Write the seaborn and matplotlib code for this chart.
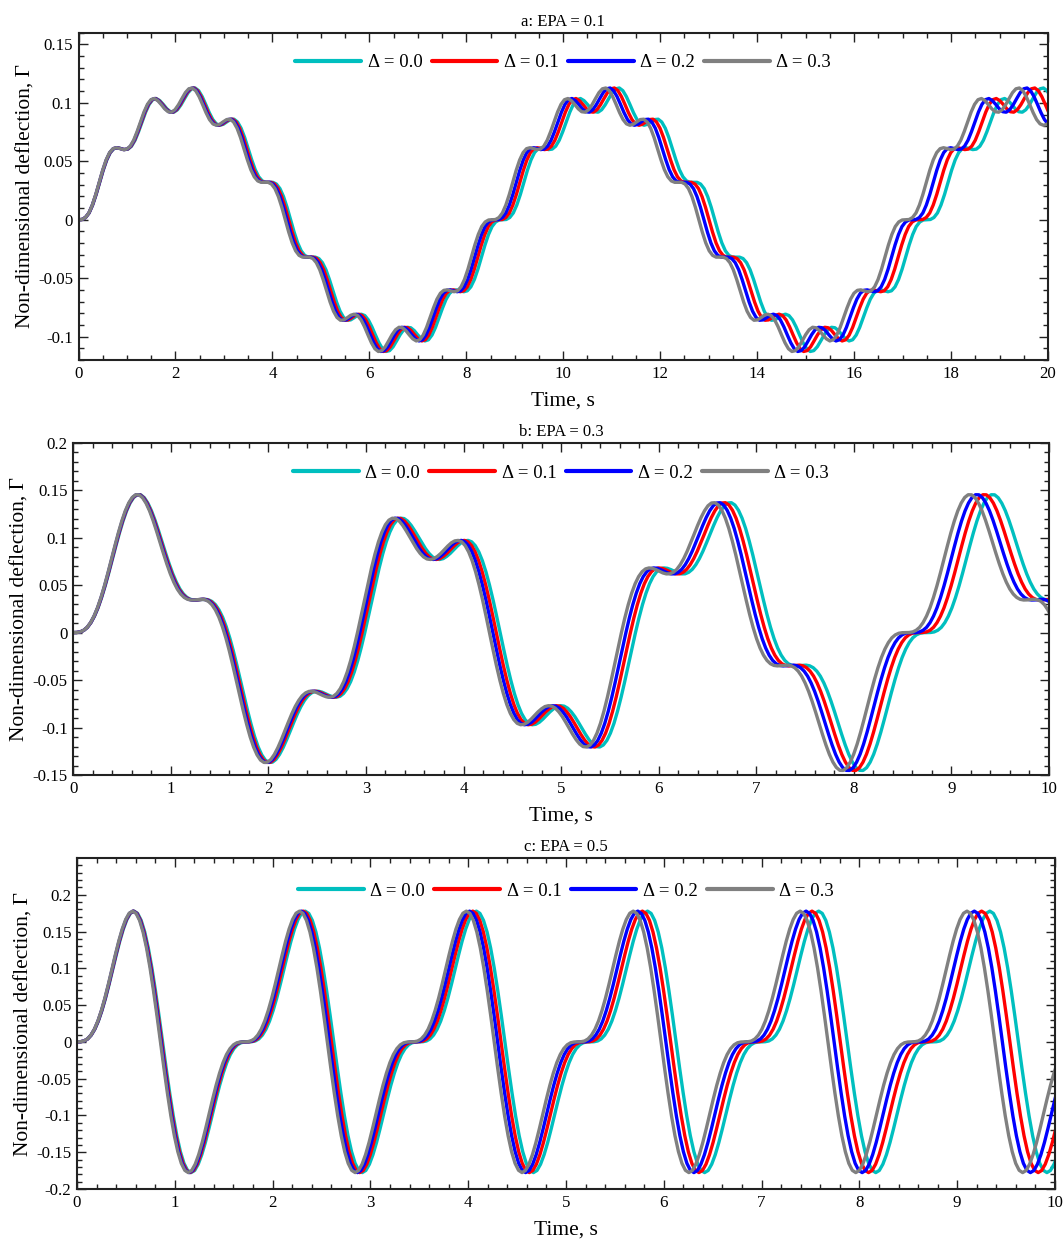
import numpy as np
import pandas as pd
import seaborn as sns
import matplotlib
matplotlib.use("Agg")
import matplotlib.pyplot as plt
from matplotlib.ticker import MultipleLocator, FuncFormatter
from matplotlib.lines import Line2D

# ---------------------------------------------------------------- data
cases = ["Δ = 0.0", "Δ = 0.1", "Δ = 0.2", "Δ = 0.3"]
colors = ["#00BFBF", "#FF0000", "#0000FF", "#808080"]

# time compression of each Δ case relative to Δ = 0.0 (read from peak positions)
period_ratio = [1.000, 0.991, 0.983, 0.975]

# sample spacing (s) of the digitised Δ = 0.0 curves
dt_a = 0.07292
dt_b = 0.03646
dt_c = 0.03646

titles = ["a: EPA = 0.1", "b: EPA = 0.3", "c: EPA = 0.5"]

gamma_a = [
    0.0, 0.0002, 0.0019, 0.0058, 0.0126, 0.0216, 0.0320, 0.0423, 0.0511, 0.0574,
    0.0608, 0.0616, 0.0609, 0.0600, 0.0604, 0.0629, 0.0680, 0.0754, 0.0838, 0.0921,
    0.0987, 0.1027, 0.1037, 0.1019, 0.0986, 0.0949, 0.0924, 0.0920, 0.0941, 0.0983,
    0.1036, 0.1087, 0.1120, 0.1127, 0.1104, 0.1053, 0.0986, 0.0916, 0.0857, 0.0820,
    0.0808, 0.0817, 0.0838, 0.0857, 0.0860, 0.0836, 0.0783, 0.0704, 0.0609, 0.0513,
    0.0428, 0.0367, 0.0332, 0.0320, 0.0320, 0.0320, 0.0305, 0.0266, 0.0198, 0.0106,
    0.0, -0.0106, -0.0198, -0.0266, -0.0305, -0.0320, -0.0320, -0.0320, -0.0332, -0.0367,
    -0.0428, -0.0513, -0.0609, -0.0704, -0.0783, -0.0836, -0.0860, -0.0857, -0.0838, -0.0817,
    -0.0808, -0.0820, -0.0857, -0.0916, -0.0986, -0.1053, -0.1104, -0.1127, -0.1120, -0.1087,
    -0.1036, -0.0983, -0.0941, -0.0920, -0.0924, -0.0949, -0.0986, -0.1019, -0.1037, -0.1027,
    -0.0987, -0.0921, -0.0838, -0.0754, -0.0680, -0.0629, -0.0604, -0.0600, -0.0609, -0.0616,
    -0.0608, -0.0574, -0.0511, -0.0423, -0.0320, -0.0216, -0.0126, -0.0058, -0.0019, -0.0002,
    0.0, 0.0002, 0.0019, 0.0058, 0.0126, 0.0216, 0.0320, 0.0423, 0.0511, 0.0574,
    0.0608, 0.0616, 0.0609, 0.0600, 0.0604, 0.0629, 0.0680, 0.0754, 0.0838, 0.0921,
    0.0987, 0.1027, 0.1037, 0.1019, 0.0986, 0.0949, 0.0924, 0.0920, 0.0941, 0.0983,
    0.1036, 0.1087, 0.1120, 0.1127, 0.1104, 0.1053, 0.0986, 0.0916, 0.0857, 0.0820,
    0.0808, 0.0817, 0.0838, 0.0857, 0.0860, 0.0836, 0.0783, 0.0704, 0.0609, 0.0513,
    0.0428, 0.0367, 0.0332, 0.0320, 0.0320, 0.0320, 0.0305, 0.0266, 0.0198, 0.0106,
    0.0, -0.0106, -0.0198, -0.0266, -0.0305, -0.0320, -0.0320, -0.0320, -0.0332, -0.0367,
    -0.0428, -0.0513, -0.0609, -0.0704, -0.0783, -0.0836, -0.0860, -0.0857, -0.0838, -0.0817,
    -0.0808, -0.0820, -0.0857, -0.0916, -0.0986, -0.1053, -0.1104, -0.1127, -0.1120, -0.1087,
    -0.1036, -0.0983, -0.0941, -0.0920, -0.0924, -0.0949, -0.0986, -0.1019, -0.1037, -0.1027,
    -0.0987, -0.0921, -0.0838, -0.0754, -0.0680, -0.0629, -0.0604, -0.0600, -0.0609, -0.0616,
    -0.0608, -0.0574, -0.0511, -0.0423, -0.0320, -0.0216, -0.0126, -0.0058, -0.0019, -0.0002,
    0.0, 0.0002, 0.0019, 0.0058, 0.0126, 0.0216, 0.0320, 0.0423, 0.0511, 0.0574,
    0.0608, 0.0616, 0.0609, 0.0600, 0.0604, 0.0629, 0.0680, 0.0754, 0.0838, 0.0921,
    0.0987, 0.1027, 0.1037, 0.1019, 0.0986, 0.0949, 0.0924, 0.0920, 0.0941, 0.0983,
    0.1036, 0.1087, 0.1120, 0.1127, 0.1104, 0.1053, 0.0986, 0.0916, 0.0857, 0.0820,
    0.0808, 0.0817, 0.0838,
]

gamma_b = [
    0.0, 0.0001, 0.0007, 0.0024, 0.0055, 0.0105, 0.0174, 0.0262, 0.0370, 0.0493,
    0.0628, 0.0770, 0.0912, 0.1049, 0.1174, 0.1281, 0.1365, 0.1423, 0.1452, 0.1451,
    0.1420, 0.1363, 0.1283, 0.1184, 0.1072, 0.0954, 0.0835, 0.0722, 0.0619, 0.0531,
    0.0459, 0.0406, 0.0370, 0.0350, 0.0343, 0.0344, 0.0348, 0.0351, 0.0346, 0.0328,
    0.0293, 0.0238, 0.0162, 0.0064, -0.0055, -0.0192, -0.0343, -0.0502, -0.0663, -0.0820,
    -0.0966, -0.1097, -0.1205, -0.1288, -0.1343, -0.1368, -0.1365, -0.1336, -0.1283, -0.1212,
    -0.1128, -0.1036, -0.0945, -0.0857, -0.0779, -0.0715, -0.0666, -0.0635, -0.0619, -0.0618,
    -0.0628, -0.0645, -0.0663, -0.0677, -0.0681, -0.0671, -0.0641, -0.0590, -0.0515, -0.0415,
    -0.0293, -0.0151, 0.0007, 0.0176, 0.0348, 0.0519, 0.0681, 0.0828, 0.0956, 0.1059,
    0.1136, 0.1184, 0.1205, 0.1201, 0.1174, 0.1129, 0.1072, 0.1009, 0.0945, 0.0885,
    0.0835, 0.0797, 0.0775, 0.0770, 0.0779, 0.0803, 0.0835, 0.0874, 0.0912, 0.0945,
    0.0966, 0.0971, 0.0956, 0.0916, 0.0850, 0.0758, 0.0641, 0.0502, 0.0346, 0.0176,
    0.0,
    -0.0176, -0.0346, -0.0502, -0.0641, -0.0758, -0.0850, -0.0916, -0.0956, -0.0971, -0.0966,
    -0.0945, -0.0912, -0.0874, -0.0835, -0.0803, -0.0779, -0.0770, -0.0775, -0.0797, -0.0835,
    -0.0885, -0.0945, -0.1009, -0.1072, -0.1129, -0.1174, -0.1201, -0.1205, -0.1184, -0.1136,
    -0.1059, -0.0956, -0.0828, -0.0681, -0.0519, -0.0348, -0.0176, -0.0007, 0.0151, 0.0293,
    0.0415, 0.0515, 0.0590, 0.0641, 0.0671, 0.0681, 0.0677, 0.0663, 0.0645, 0.0628,
    0.0618, 0.0619, 0.0635, 0.0666, 0.0715, 0.0779, 0.0857, 0.0945, 0.1036, 0.1128,
    0.1212, 0.1283, 0.1336, 0.1365, 0.1368, 0.1343, 0.1288, 0.1205, 0.1097, 0.0966,
    0.0820, 0.0663, 0.0502, 0.0343, 0.0192, 0.0055, -0.0064, -0.0162, -0.0238, -0.0293,
    -0.0328, -0.0346, -0.0351, -0.0348, -0.0344, -0.0343, -0.0350, -0.0370, -0.0406, -0.0459,
    -0.0531, -0.0619, -0.0722, -0.0835, -0.0954, -0.1072, -0.1184, -0.1283, -0.1363, -0.1420,
    -0.1451, -0.1452, -0.1423, -0.1365, -0.1281, -0.1174, -0.1049, -0.0912, -0.0770, -0.0628,
    -0.0493, -0.0370, -0.0262, -0.0174, -0.0105, -0.0055, -0.0024, -0.0007, -0.0001,
    0.0, 0.0001, 0.0007, 0.0024, 0.0055, 0.0105, 0.0174, 0.0262, 0.0370, 0.0493,
    0.0628, 0.0770, 0.0912, 0.1049, 0.1174, 0.1281, 0.1365, 0.1423, 0.1452, 0.1451,
    0.1420, 0.1363, 0.1283, 0.1184, 0.1072, 0.0954, 0.0835, 0.0722, 0.0619, 0.0531,
    0.0459, 0.0406, 0.0370, 0.0350, 0.0343, 0.0344, 0.0348, 0.0351, 0.0346, 0.0328,
    0.0293, 0.0238, 0.0162,
]

gamma_c = [
    0.0, 0.0002, 0.0012, 0.0040, 0.0092, 0.0172, 0.0283, 0.0425, 0.0592, 0.0780, 0.0979, 0.1179,
    0.1368, 0.1533, 0.1663, 0.1748, 0.1777, 0.1746, 0.1651, 0.1493, 0.1276, 0.1007, 0.0696, 0.0356,
    0.0, -0.0356, -0.0696, -0.1007, -0.1276, -0.1493, -0.1651, -0.1746, -0.1777, -0.1748, -0.1663, -0.1533,
    -0.1368, -0.1179, -0.0979, -0.0780, -0.0592, -0.0425, -0.0283, -0.0172, -0.0092, -0.0040, -0.0012, -0.0002,
    0.0, 0.0002, 0.0012, 0.0040, 0.0092, 0.0172, 0.0283, 0.0425, 0.0592, 0.0780, 0.0979, 0.1179,
    0.1368, 0.1533, 0.1663, 0.1748, 0.1777, 0.1746, 0.1651, 0.1493, 0.1276, 0.1007, 0.0696, 0.0356,
    0.0, -0.0356, -0.0696, -0.1007, -0.1276, -0.1493, -0.1651, -0.1746, -0.1777, -0.1748, -0.1663, -0.1533,
    -0.1368, -0.1179, -0.0979, -0.0780, -0.0592, -0.0425, -0.0283, -0.0172, -0.0092, -0.0040, -0.0012, -0.0002,
    0.0, 0.0002, 0.0012, 0.0040, 0.0092, 0.0172, 0.0283, 0.0425, 0.0592, 0.0780, 0.0979, 0.1179,
    0.1368, 0.1533, 0.1663, 0.1748, 0.1777, 0.1746, 0.1651, 0.1493, 0.1276, 0.1007, 0.0696, 0.0356,
    0.0, -0.0356, -0.0696, -0.1007, -0.1276, -0.1493, -0.1651, -0.1746, -0.1777, -0.1748, -0.1663, -0.1533,
    -0.1368, -0.1179, -0.0979, -0.0780, -0.0592, -0.0425, -0.0283, -0.0172, -0.0092, -0.0040, -0.0012, -0.0002,
    0.0, 0.0002, 0.0012, 0.0040, 0.0092, 0.0172, 0.0283, 0.0425, 0.0592, 0.0780, 0.0979, 0.1179,
    0.1368, 0.1533, 0.1663, 0.1748, 0.1777, 0.1746, 0.1651, 0.1493, 0.1276, 0.1007, 0.0696, 0.0356,
    0.0, -0.0356, -0.0696, -0.1007, -0.1276, -0.1493, -0.1651, -0.1746, -0.1777, -0.1748, -0.1663, -0.1533,
    -0.1368, -0.1179, -0.0979, -0.0780, -0.0592, -0.0425, -0.0283, -0.0172, -0.0092, -0.0040, -0.0012, -0.0002,
    0.0, 0.0002, 0.0012, 0.0040, 0.0092, 0.0172, 0.0283, 0.0425, 0.0592, 0.0780, 0.0979, 0.1179,
    0.1368, 0.1533, 0.1663, 0.1748, 0.1777, 0.1746, 0.1651, 0.1493, 0.1276, 0.1007, 0.0696, 0.0356,
    0.0, -0.0356, -0.0696, -0.1007, -0.1276, -0.1493, -0.1651, -0.1746, -0.1777, -0.1748, -0.1663, -0.1533,
    -0.1368, -0.1179, -0.0979, -0.0780, -0.0592, -0.0425, -0.0283, -0.0172, -0.0092, -0.0040, -0.0012, -0.0002,
    0.0, 0.0002, 0.0012, 0.0040, 0.0092, 0.0172, 0.0283, 0.0425, 0.0592, 0.0780, 0.0979, 0.1179,
    0.1368, 0.1533, 0.1663, 0.1748, 0.1777, 0.1746, 0.1651, 0.1493, 0.1276, 0.1007, 0.0696, 0.0356,
    0.0, -0.0356, -0.0696, -0.1007, -0.1276, -0.1493, -0.1651, -0.1746, -0.1777, -0.1748, -0.1663, -0.1533,
    -0.1368, -0.1179, -0.0979, -0.0780, -0.0592, -0.0425, -0.0283,
]

# ---------------------------------------------------------------- style
sns.set_theme(style="ticks")
plt.rcParams["font.family"] = ["Liberation Serif", "DejaVu Serif"]
plt.rcParams["axes.unicode_minus"] = False
plt.rcParams["text.color"] = "black"
plt.rcParams["axes.labelcolor"] = "black"

W, H = 1064, 1241
fig = plt.figure(figsize=(W / 100, H / 100), dpi=100)


def px_rect(left, right, top, bottom):
    return [left / W, 1 - bottom / H, (right - left) / W, (bottom - top) / H]


panels = [
    dict(values=gamma_a, dt=dt_a, xlim=(0, 20), ylim=(-0.12, 0.16),
         xmaj=2, xmin=0.5, rect=px_rect(78.5, 1048, 32.7, 360), leg_y=0.908),
    dict(values=gamma_b, dt=dt_b, xlim=(0, 10), ylim=(-0.15, 0.2),
         xmaj=1, xmin=0.2, rect=px_rect(73.2, 1049, 442.7, 775), leg_y=0.909),
    dict(values=gamma_c, dt=dt_c, xlim=(0, 10), ylim=(-0.2, 0.2495),
         xmaj=1, xmin=0.2, rect=px_rect(77, 1055, 858.3, 1189), leg_y=0.901),
]

yfmt = FuncFormatter(lambda v, _: f"{round(v, 4) + 0.0:g}")
xfmt = FuncFormatter(lambda v, _: f"{round(v, 4) + 0.0:g}")

for title, p in zip(titles, panels):
    ax = fig.add_axes(p["rect"])
    vals = np.asarray(p["values"])
    frames = []
    for name, ratio in zip(cases, period_ratio):
        t = np.arange(len(vals)) * p["dt"] * ratio
        frames.append(pd.DataFrame({"Time": t, "Gamma": vals, "case": name}))
    df = pd.concat(frames, ignore_index=True)
    sns.lineplot(data=df, x="Time", y="Gamma", hue="case", hue_order=cases,
                 palette=colors, estimator=None, sort=False, linewidth=2.4,
                 legend=False, ax=ax)

    ax.set_xlim(*p["xlim"])
    ax.set_ylim(*p["ylim"])
    ax.xaxis.set_major_locator(MultipleLocator(p["xmaj"]))
    ax.xaxis.set_minor_locator(MultipleLocator(p["xmin"]))
    ax.yaxis.set_major_locator(MultipleLocator(0.05))
    ax.yaxis.set_minor_locator(MultipleLocator(0.01))
    ax.xaxis.set_major_formatter(xfmt)
    ax.yaxis.set_major_formatter(yfmt)

    ax.tick_params(which="both", direction="in", top=True, right=True,
                   labelsize=12.2, width=1.0, color="#222222", labelcolor="black")
    ax.tick_params(which="major", length=6.8, pad=4)
    ax.tick_params(which="minor", length=3.6)
    for sp in ax.spines.values():
        sp.set_visible(True)
        sp.set_linewidth(1.5)
        sp.set_color("#222222")

    ax.set_title(title, fontsize=12, pad=5, color="black")
    ax.set_xlabel("Time, s", fontsize=15.5, labelpad=7)
    ax.set_ylabel("Non-dimensional deflection, Γ", fontsize=15.5, labelpad=2)

    handles = [Line2D([], [], color=c, lw=3) for c in colors]
    ax.legend(handles, cases, loc="center", bbox_to_anchor=(0.5, p["leg_y"]),
              ncol=4, frameon=False, fontsize=13.5, handlelength=3.5,
              handletextpad=0.35, columnspacing=0.5, borderaxespad=0,
              borderpad=0)

fig.savefig("out.png", dpi=100)
